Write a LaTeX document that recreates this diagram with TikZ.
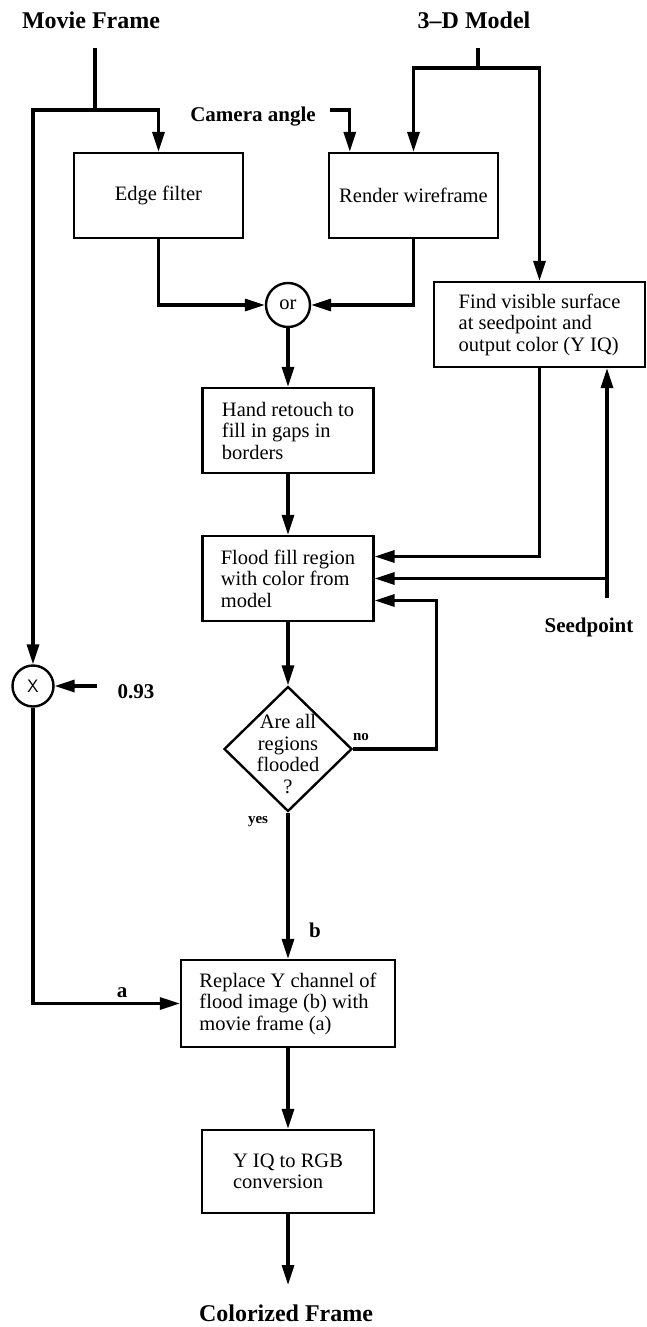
\documentclass[tikz,border=0pt]{standalone}
\usepackage{fontspec}
\setmainfont{Liberation Serif}
\usetikzlibrary{shapes.geometric,arrows.meta}
\newcommand{\corps}[0]{\fontsize{20.5}{21.5}\selectfont}
\newcommand{\gras}[0]{\fontsize{21}{23}\selectfont\bfseries}
\newcommand{\petit}[0]{\fontsize{15}{17}\selectfont\bfseries}
\newcommand{\titre}[0]{\fontsize{24}{26}\selectfont\bfseries}

\begin{document}
\begin{tikzpicture}[x=1pt, y=-1pt,
	boite/.style={draw, line width=2.4pt, minimum width=171pt, minimum height=85pt, align=left, inner sep=0pt, font=\corps},
	rond/.style={draw, line width=2.4pt, circle, inner sep=0pt},
	choix/.style={draw, line width=2.4pt, diamond, inner sep=0pt, minimum width=128pt, minimum height=125pt},
	lbl/.style={font=\gras, inner sep=0pt},
	lien/.style={line width=3.2pt},
	fl/.style={lien, -{Triangle[length=20pt,width=12pt]}}]
\useasboundingbox (0,0) rectangle (647,1327);
%Inputs
	\node[font=\titre] (movie) at (91,20) {Movie Frame};
	\node[font=\titre] (model) at (474,20) {3--D Model};
	\node[lbl] (camera) at (253,117) {Camera angle};
	\node[lbl] (seed) at (589,627) {Seedpoint};
	\node[lbl] (const) at (136,692) {0.93};
	\coordinate (movietop) at (95,48);
	\coordinate (moviejoin) at (95,110);
	\coordinate (modeltop) at (478,48);
	\coordinate (modeljoin) at (478,68);
	\coordinate (camstart) at (330,110);
	\coordinate (seedbot) at (607,598);
	\coordinate (constart) at (97,686);
%The boxes
	\node[boite, minimum width=169pt] (edge) at (158.5,195.5) {Edge filter};
	\node[boite, minimum width=169pt] (render) at (413.5,195.5) {Render wireframe};
	\node[rond, minimum size=44pt, font=\corps] (or) at (288,305) {or};
	\node[boite, minimum width=211pt] (find) at (539.5,324.5) {Find visible surface\\at seedpoint and\\output color (Y IQ)};
	\node[boite] (hand) at (288,430.5) {Hand retouch to\\fill in gaps in\\borders};
	\node[boite] (flood) at (288,578.5) {Flood fill region\\with color from\\model};
	\node[choix] (test) at (288,749) {};
	\node[font=\corps, align=center, inner sep=0pt] (testtxt) at (288,754) {Are all\\regions\\flooded\\?};
	\node[rond, minimum size=41pt, font=\fontsize{18}{18}\selectfont\sffamily] (mult) at (33,686) {X};
	\node[boite, minimum width=214pt, minimum height=87pt] (replace) at (288,1003.5) {Replace Y channel of\\flood image (b) with\\movie frame (a)};
	\node[boite, minimum width=172pt, minimum height=83pt] (yiq) at (288,1171.5) {Y IQ to RGB\\conversion};
	\node[font=\titre] (colorized) at (286,1313) {Colorized Frame};
	\coordinate (outend) at (288,1285);
%Small labels
	\node[font=\petit, inner sep=0pt] (no) at (361,737) {no};
	\node[font=\petit, inner sep=0pt] (yes) at (258,822) {yes};
	\node[lbl] (b) at (315,930) {b};
	\node[lbl] (a) at (122,993) {a};
%Movie frame
	\draw[lien] (movietop) -- (moviejoin);
	\draw[fl] (moviejoin) -| (edge.north);
	\draw[fl] (moviejoin) -| (mult.north);
	\draw[fl] (constart) -- (mult.east);
	\draw[fl] (mult.south) |- (replace.west);
%Model
	\draw[lien] (modeltop) -- (modeljoin);
	\draw[fl] (modeljoin) -| (render.north);
	\draw[fl] (modeljoin) -| (find.north);
	\draw[fl] (camstart) -| ([xshift=22pt]render.north west);
%Middle column
	\draw[fl] (edge.south) |- (or.west);
	\draw[fl] (render.south) |- (or.east);
	\draw[fl] (or.south) -- (hand.north);
	\draw[fl] (hand.south) -- (flood.north);
	\draw[fl] (find.south) |- ([yshift=22pt]flood.east);
	\draw[fl] (seedbot) -- (seedbot |- find.south);
	\draw[fl] (seedbot |- flood.east) -- (flood.east);
	\draw[fl] (test.east) -- ++(83,0) |- ([yshift=-22pt]flood.east);
	\draw[fl] (flood.south) -- (test.north);
	\draw[fl] (test.south) -- (replace.north);
	\draw[fl] (replace.south) -- (yiq.north);
	\draw[fl] (yiq.south) -- (outend);
\end{tikzpicture}
\end{document}
